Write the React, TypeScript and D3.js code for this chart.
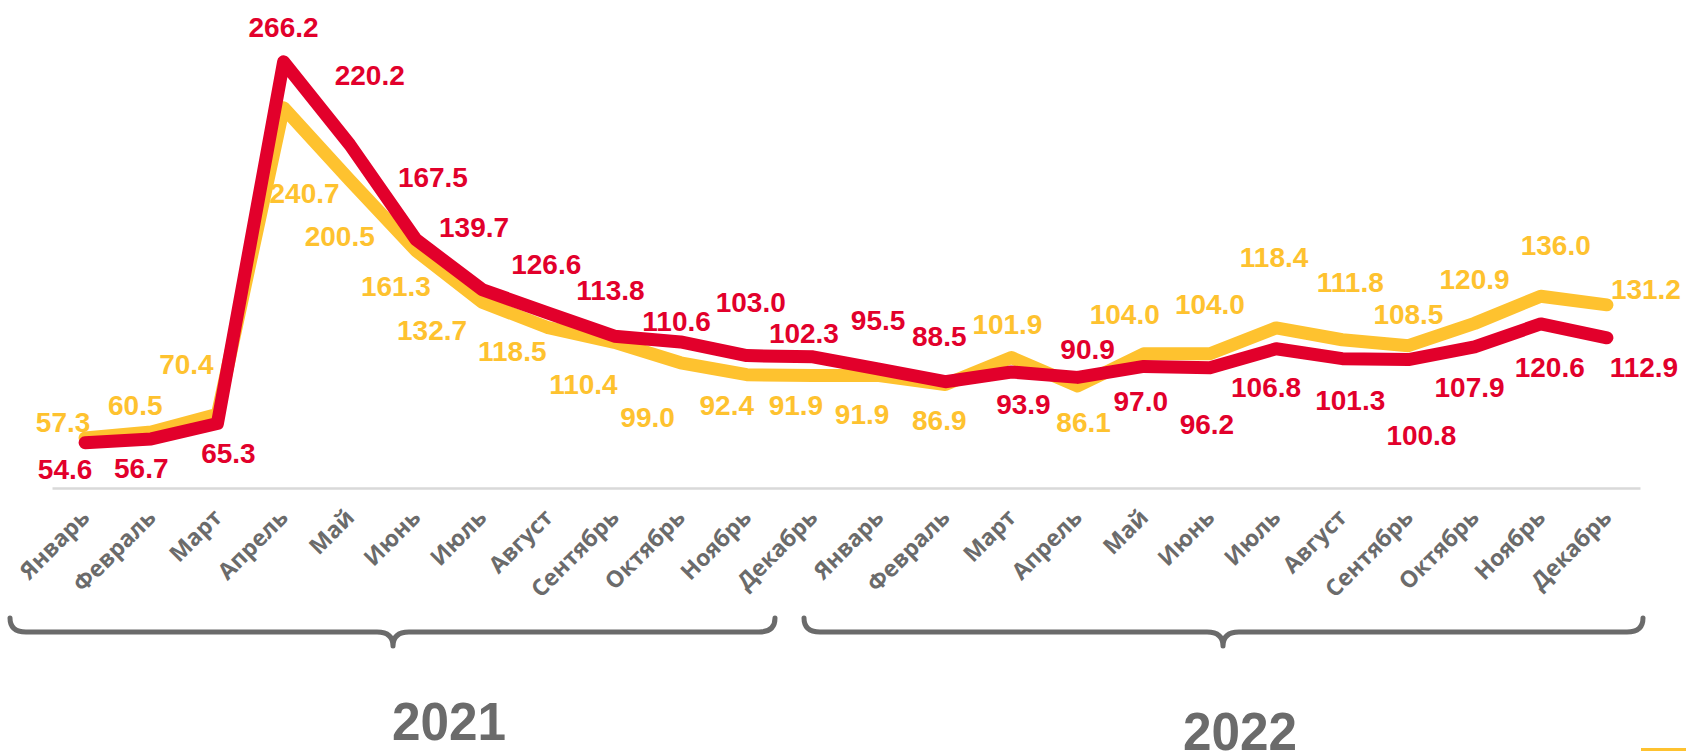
import React, { useEffect, useRef } from "react";
import * as d3 from "d3";

// months, two years in a row
const months = [
  "Январь", "Февраль", "Март", "Апрель", "Май", "Июнь",
  "Июль", "Август", "Сентябрь", "Октябрь", "Ноябрь", "Декабрь",
];
const categories = [...months, ...months];
const years = ["2021", "2022"];

// red series
const redValues = [
  54.6, 56.7, 65.3, 266.2, 220.2, 167.5, 139.7, 126.6, 113.8, 110.6, 103.0, 102.3,
  95.5, 88.5, 93.9, 90.9, 97.0, 96.2, 106.8, 101.3, 100.8, 107.9, 120.6, 112.9,
];

// yellow series
const yellowValues = [
  57.3, 60.5, 70.4, 240.7, 200.5, 161.3, 132.7, 118.5, 110.4, 99.0, 92.4, 91.9,
  91.9, 86.9, 101.9, 86.1, 104.0, 104.0, 118.4, 111.8, 108.5, 120.9, 136.0, 131.2,
];

// label nudges relative to each point (layout only)
const redLabelOffsets = [
  [-20, 36], [-10, 39], [11, 40], [0, -25], [20, -60], [17, -53],
  [-8, -53], [-2, -39], [-4, -36], [-4, -11], [4, -44], [-9, -14],
  [-1, -39], [-6, -36], [12, 42], [10, -18], [-3, 45], [-3, 66],
  [-10, 48], [8, 51], [13, 85], [-5, 50], [9, 53], [37, 39],
];
const yellowLabelOffsets = [
  [-22, -6], [-16, -17], [-31, -40], [21, 95], [-10, 66], [-20, 45],
  [-50, 38], [-36, 33], [-31, 52], [-33, 64], [-20, 40], [-17, 39],
  [-17, 48], [-6, 45], [-4, -24], [6, 46], [-19, -30], [0, -40],
  [-2, -61], [8, -48], [0, -22], [0, -34], [15, -41], [39, -6],
];

const RED = "#e2002b";
const YELLOW = "#fec22f";
const GREY = "#6b6b6b";

const App = () => {
  const svgRef = useRef(null);

  useEffect(() => {
    const W = 1686;
    const H = 751;
    const svg = d3.select(svgRef.current);
    svg.selectAll("*").remove();
    svg.attr("width", W).attr("height", H).attr("viewBox", `0 0 ${W} ${H}`);

    const idx = categories.map((_, i) => i);

    const x = d3.scaleBand().domain(idx).range([52, 1640]).padding(0);
    const cx = (i) => x(i) + x.bandwidth() / 2;
    const y = d3.scaleLinear().domain([30, 300]).range([487, 1]);

    // baseline
    const xAxis = svg
      .append("g")
      .attr("transform", `translate(0,488)`)
      .call(d3.axisBottom(x).tickSize(0).tickFormat(() => ""));
    xAxis.select(".domain").attr("stroke", "#d9d9d9").attr("stroke-width", 2.5);

    // month labels
    svg
      .append("g")
      .selectAll("text")
      .data(categories)
      .join("text")
      .attr("transform", (d, i) => `translate(${cx(i) + 6},519) rotate(-45)`)
      .attr("text-anchor", "end")
      .attr("font-family", "'Open Sans', sans-serif")
      .attr("font-weight", 700)
      .attr("font-size", 23)
      .attr("fill", GREY)
      .text((d) => d);

    // lines
    const line = d3
      .line()
      .x((d, i) => cx(i))
      .y((d) => y(d));

    svg
      .append("path")
      .datum(yellowValues)
      .attr("fill", "none")
      .attr("stroke", YELLOW)
      .attr("stroke-width", 13)
      .attr("stroke-linejoin", "round")
      .attr("stroke-linecap", "round")
      .attr("d", line);

    svg
      .append("path")
      .datum(redValues)
      .attr("fill", "none")
      .attr("stroke", RED)
      .attr("stroke-width", 13)
      .attr("stroke-linejoin", "round")
      .attr("stroke-linecap", "round")
      .attr("d", line);

    // value labels
    const addLabels = (values, offsets, color) => {
      svg
        .append("g")
        .selectAll("text")
        .data(values)
        .join("text")
        .attr("x", (d, i) => cx(i) + offsets[i][0])
        .attr("y", (d, i) => y(d) + offsets[i][1])
        .attr("text-anchor", "middle")
        .attr("font-family", "'Liberation Sans', Arial, sans-serif")
        .attr("font-weight", 700)
        .attr("font-size", 28)
        .attr("fill", color)
        .text((d) => d.toFixed(1));
    };
    addLabels(yellowValues, yellowLabelOffsets, YELLOW);
    addLabels(redValues, redLabelOffsets, RED);

    // year braces
    const braces = [
      { x0: 10, x1: 775, mid: 393, label: years[0], tx: 449, ty: 740 },
      { x0: 804, x1: 1643, mid: 1223, label: years[1], tx: 1240, ty: 750 },
    ];
    const r = 16;
    const top = 618;
    const ly = 632;
    const tip = 646;
    braces.forEach((b) => {
      const p = d3.path();
      p.moveTo(b.x0, top);
      p.quadraticCurveTo(b.x0, ly, b.x0 + r, ly);
      p.lineTo(b.mid - r, ly);
      p.quadraticCurveTo(b.mid, ly, b.mid, tip);
      p.quadraticCurveTo(b.mid, ly, b.mid + r, ly);
      p.lineTo(b.x1 - r, ly);
      p.quadraticCurveTo(b.x1, ly, b.x1, top);
      svg
        .append("path")
        .attr("d", p.toString())
        .attr("fill", "none")
        .attr("stroke", GREY)
        .attr("stroke-width", 5)
        .attr("stroke-linecap", "round")
        .attr("stroke-linejoin", "round");

      svg
        .append("text")
        .attr("x", b.tx)
        .attr("y", b.ty)
        .attr("text-anchor", "middle")
        .attr("font-family", "'Liberation Sans Narrow', 'Liberation Sans', Arial, sans-serif")
        .attr("font-weight", 700)
        .attr("font-size", 54)
        .attr("textLength", 114)
        .attr("lengthAdjust", "spacingAndGlyphs")
        .attr("fill", GREY)
        .text(b.label);
    });

    // small accent bar at bottom right
    svg
      .append("rect")
      .attr("x", 1641)
      .attr("y", 748)
      .attr("width", 45)
      .attr("height", 3)
      .attr("fill", YELLOW);
  }, []);

  return (
    <div style={{ position: "absolute", left: 0, top: 0, width: 1686, height: 751, background: "#fff" }}>
      <svg ref={svgRef} style={{ display: "block" }} />
    </div>
  );
};

export default App;
